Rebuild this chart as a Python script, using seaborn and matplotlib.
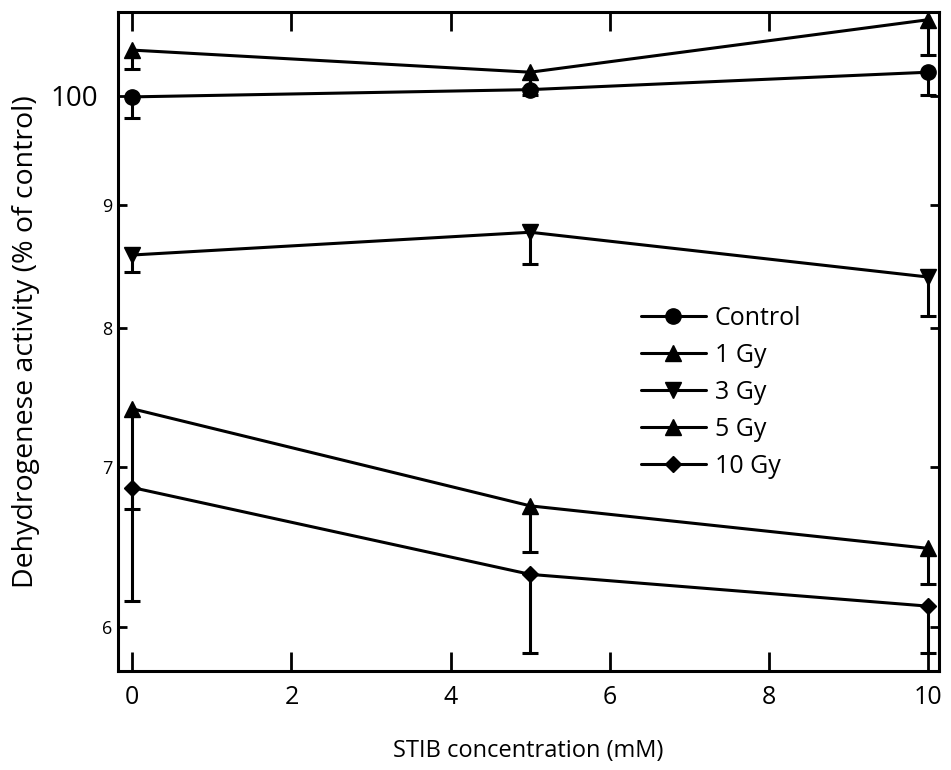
import numpy as np
import pandas as pd
import seaborn as sns
import matplotlib.pyplot as plt
from matplotlib.ticker import FixedLocator, FixedFormatter, NullLocator
from matplotlib.transforms import ScaledTranslation

# Valeurs (échelle log en y)
conc = [0, 5, 10]
groups = ["Control", "1 Gy", "3 Gy", "5 Gy", "10 Gy"]
control = [99.9, 100.6, 102.3]
gy1 = [104.5, 102.3, 107.6]
gy3 = [85.8, 87.7, 84.0]
gy5 = [74.0, 67.4, 64.7]
gy10 = [68.6, 63.1, 61.2]

# erreurs (seulement vers le bas)
control_err = [2.0, 0.5, 2.2]
gy1_err = [1.9, 1.5, 3.6]
gy3_err = [1.4, 2.6, 3.1]
gy5_err = [6.8, 2.9, 2.2]
gy10_err = [7.1, 4.6, 2.7]

y_ticks = [60, 70, 80, 90, 100]
y_tick_labels = ["6", "7", "8", "9", "100"]
x_ticks = [0, 2, 4, 6, 8, 10]

values = [control, gy1, gy3, gy5, gy10]
errors = [control_err, gy1_err, gy3_err, gy5_err, gy10_err]

df = pd.DataFrame({
    "conc": conc * len(groups),
    "activity": sum(values, []),
    "err": sum(errors, []),
    "group": [g for g in groups for _ in conc],
})

sns.set_style("ticks")
plt.rcParams["font.family"] = ["Open Sans", "DejaVu Sans"]
plt.rcParams["text.color"] = "black"
plt.rcParams["axes.labelcolor"] = "black"
plt.rcParams["xtick.color"] = "black"
plt.rcParams["ytick.color"] = "black"

fig = plt.figure(figsize=(9.51, 7.70), dpi=100)
ax = fig.add_axes([0.124, 0.1286, 0.863, 0.8558])

markers = {"Control": "o", "1 Gy": "^", "3 Gy": "v", "5 Gy": "^", "10 Gy": "D"}
sizes = {"Control": 11, "1 Gy": 11, "3 Gy": 11, "5 Gy": 11, "10 Gy": 8.5}

for g in groups:
    d = df[df["group"] == g]
    sns.lineplot(data=d, x="conc", y="activity", ax=ax, color="black",
                 marker=markers[g], markersize=sizes[g], markeredgecolor="black",
                 markeredgewidth=1, linewidth=2.2, label=g, zorder=3, clip_on=False)
    eb = ax.errorbar(d["conc"], d["activity"], yerr=[d["err"], np.zeros(len(d))],
                     fmt="none", ecolor="black", elinewidth=2.2, capsize=6,
                     capthick=2.2, zorder=2, clip_on=False)
    eb[1][1].set_visible(False)  # pas de chapeau en haut

ax.set_yscale("log")
ax.set_ylim(57.5, 108.4)
ax.set_xlim(-0.18, 10.13)
ax.yaxis.set_major_locator(FixedLocator(y_ticks))
ax.yaxis.set_major_formatter(FixedFormatter(y_tick_labels))
ax.yaxis.set_minor_locator(NullLocator())
ax.set_xticks(x_ticks)

ax.tick_params(axis="x", direction="in", top=True, length=14, width=2,
               labelsize=18, pad=10, colors="black")
ax.tick_params(axis="y", direction="in", right=True, length=6.5, width=2,
               labelsize=13, pad=4, colors="black")
for lab in ax.get_yticklabels():
    if lab.get_text() == "100":
        lab.set_fontsize(20)
        lab.set_transform(lab.get_transform() + ScaledTranslation(-10 / 72, 0, fig.dpi_scale_trans))

for s in ax.spines.values():
    s.set_linewidth(2.2)
    s.set_color("black")

ax.set_xlabel("STIB concentration (mM)", fontsize=17, labelpad=21)
ax.set_ylabel("Dehydrogenese activity (% of control)", fontsize=20.5, labelpad=8)

ax.legend(loc="upper left", bbox_to_anchor=(0.625, 0.569), frameon=False,
          fontsize=18, handlelength=2.6, handletextpad=0.35, labelspacing=0.48,
          borderaxespad=0)

fig.savefig("out.png", dpi=100)
